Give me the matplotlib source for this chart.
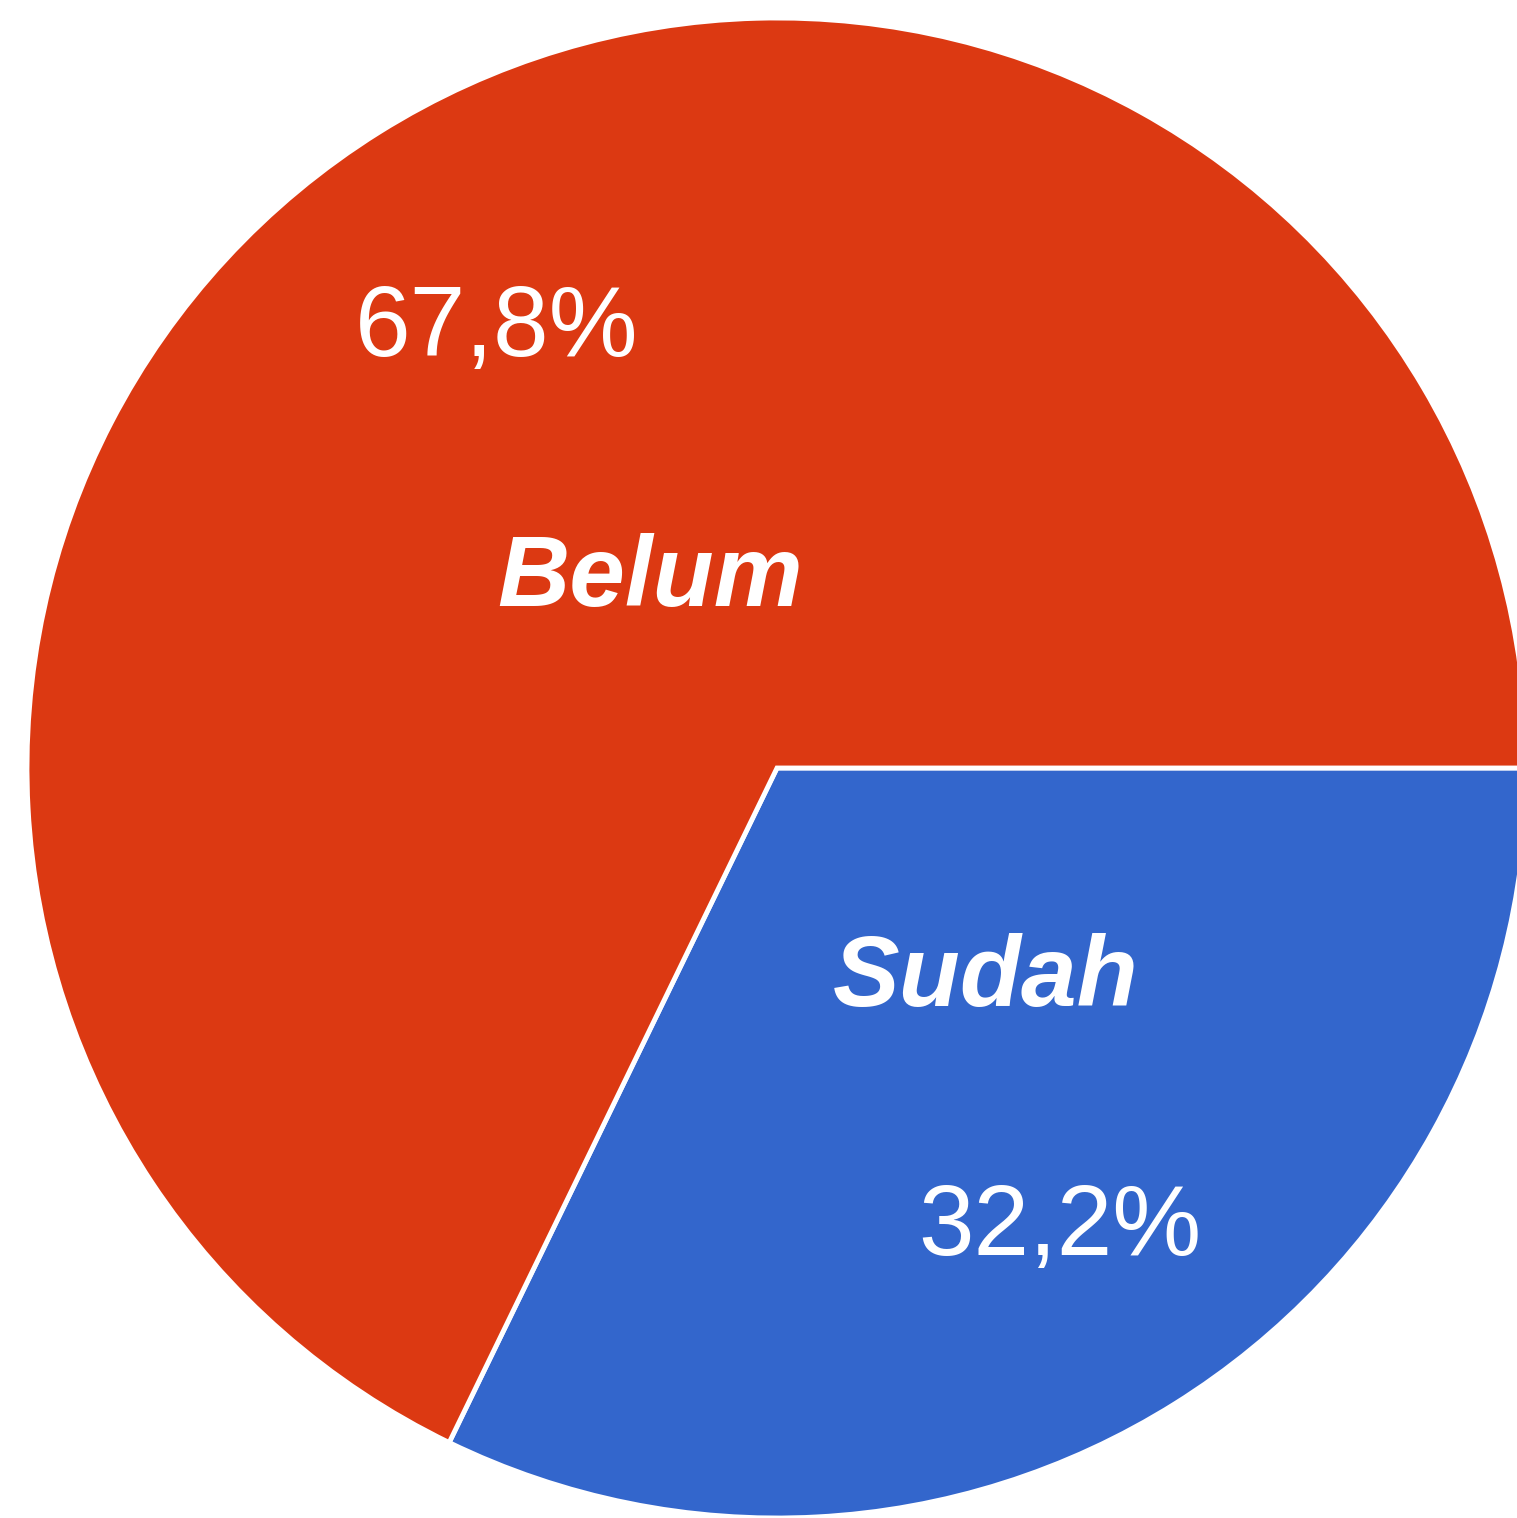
import matplotlib
matplotlib.use("Agg")
from matplotlib import pyplot as plt

# data
labels = ["Sudah", "Belum"]
values = [32.2, 67.8]
pct_labels = ["32,2%", "67,8%"]
colors = ["#3366CC", "#DC3912"]

W, H = 1517, 1518
cx, cy, r = 777, 768, 750  # pixel centre and radius of the pie


def px(x, y):
    # pixel (from top-left) -> data coords
    return (x - cx) / r, (cy - y) / r


fig = plt.figure(figsize=(W / 100, H / 100), dpi=100)
ax = fig.add_axes([0, 0, 1, 1])
ax.pie(values, colors=colors, startangle=0, counterclock=False,
       radius=1.0, center=(0, 0),
       wedgeprops=dict(edgecolor="white", linewidth=3.5))
ax.set_xlim(-cx / r, (W - cx) / r)
ax.set_ylim(-(H - cy) / r, cy / r)
ax.set_aspect("auto")
ax.axis("off")

# category labels (bold italic) and percentage labels
ax.text(*px(650, 606), labels[1], ha="center", va="baseline", color="white",
        fontsize=72, fontweight="bold", fontstyle="italic", family="Liberation Sans")
ax.text(*px(986, 1006), labels[0], ha="center", va="baseline", color="white",
        fontsize=72, fontweight="bold", fontstyle="italic", family="Liberation Sans")
ax.text(*px(497, 356), pct_labels[1], ha="center", va="baseline", color="white",
        fontsize=72, family="Liberation Sans")
ax.text(*px(1060, 1255), pct_labels[0], ha="center", va="baseline", color="white",
        fontsize=72, family="Liberation Sans")

fig.savefig("out.png", dpi=100, facecolor="white")
